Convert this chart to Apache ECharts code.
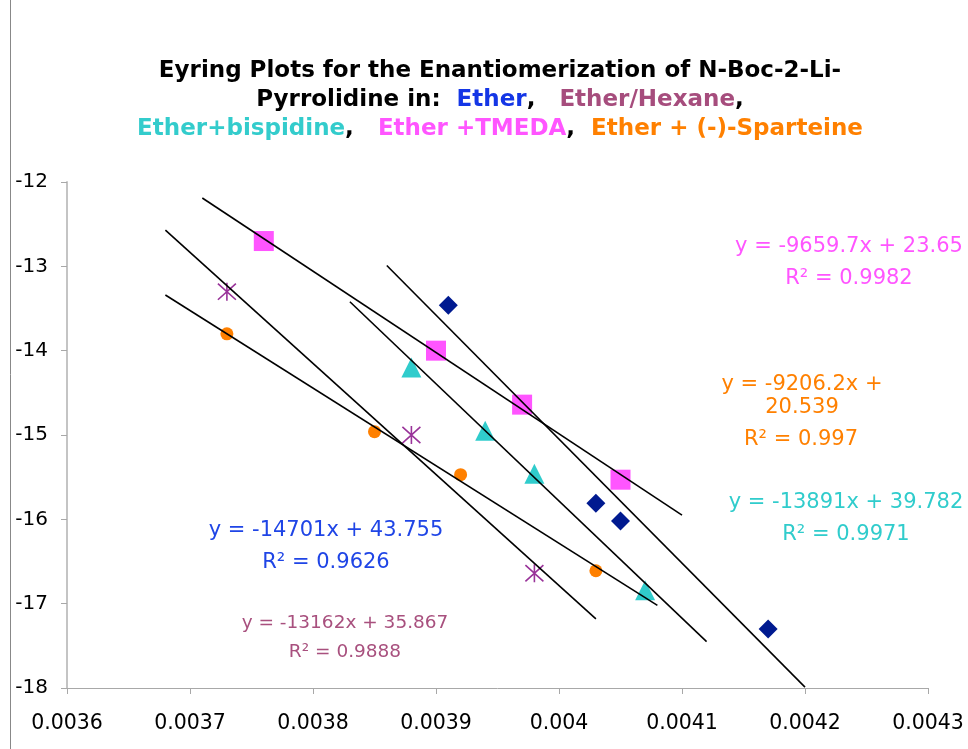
<!DOCTYPE html>
<html>
<head>
<meta charset="utf-8">
<script src="https://cdn.jsdelivr.net/npm/echarts@6/dist/echarts.min.js"></script>
<style>html,body{margin:0;padding:0;background:#fff}#c{width:968px;height:749px}</style>
</head>
<body>
<div id="c"></div>
<script>
// Axis ticks
const xTicks = [0.0036, 0.0037, 0.0038, 0.0039, 0.004, 0.0041, 0.0042, 0.0043];
const yTicks = [-18, -17, -16, -15, -14, -13, -12];

// Data points (1/T, ln(k/T))
const etherX = [0.00391, 0.00403, 0.00405, 0.00417];
const etherY = [-13.46, -15.81, -16.02, -17.30];
const hexaneX = [0.00373, 0.00388, 0.00398];
const hexaneY = [-13.30, -15.00, -16.64];
const bispX = [0.00388, 0.00394, 0.00398, 0.00407];
const bispY = [-14.20, -14.95, -15.46, -16.84];
const tmedaX = [0.00376, 0.00390, 0.00397, 0.00405];
const tmedaY = [-12.70, -14.00, -14.64, -15.53];
const sparX = [0.00373, 0.00385, 0.00392, 0.00403];
const sparY = [-13.80, -14.96, -15.47, -16.61];

// Trendline end points
const etherFitX = [0.00386, 0.0042];
const etherFitY = [-12.99, -17.99];
const hexaneFitX = [0.00368, 0.00403];
const hexaneFitY = [-12.57, -17.18];
const bispFitX = [0.00383, 0.00412];
const bispFitY = [-13.42, -17.45];
const tmedaFitX = [0.00371, 0.0041];
const tmedaFitY = [-12.19, -15.95];
const sparFitX = [0.00368, 0.00408];
const sparFitY = [-13.34, -17.02];

// Equation labels
const eqEther = ['y = -14701x + 43.755', 'R² = 0.9626'];
const eqHexane = ['y = -13162x + 35.867', 'R² = 0.9888'];
const eqBisp = ['y = -13891x + 39.782', 'R² = 0.9971'];
const eqTmeda = ['y = -9659.7x + 23.65', 'R² = 0.9982'];
const eqSpar = ['y = -9206.2x +', '20.539', 'R² = 0.997'];

const C = {
  ether: '#001A90', etherTxt: '#1F45E6',
  hexane: '#993399', hexaneTxt: '#A8507E',
  bisp: '#30CCCC', tmeda: '#FF55FF', spar: '#FF8000'
};

const zip = (a, b) => a.map((v, i) => [v, b[i]]);

const chart = echarts.init(document.getElementById('c'));

const FONT = 'DejaVu Sans';
function eqText(lines, color, x, y, size, lh) {
  return {
    type: 'text', x: x, y: y, z: 100,
    style: {
      text: lines.join('\n'), fill: color, font: (size || 21) + 'px "' + FONT + '"',
      align: 'center', verticalAlign: 'top', lineHeight: lh || 32
    }
  };
}

function scatter(name, x, y, symbol, size, style) {
  style.opacity = 1;
  return {
    name: name, type: 'scatter', data: zip(x, y), symbol: symbol, symbolSize: size,
    itemStyle: style, z: 2, silent: true
  };
}
function fit(x, y) {
  return {
    type: 'line', data: zip(x, y), showSymbol: false, symbol: 'none',
    lineStyle: { color: '#000', width: 1.6 }, z: 5, silent: true, animation: false
  };
}

const T = (fill) => ({ fill: fill, fontFamily: FONT, fontWeight: 'bold', fontSize: 23, lineHeight: 29 });

chart.setOption({
  animation: false,
  backgroundColor: '#fff',
  grid: { left: 67, right: 40, top: 182, bottom: 61 },
  xAxis: {
    type: 'value', min: xTicks[0], max: xTicks[xTicks.length - 1], interval: 0.0001,
    axisLine: { show: true, lineStyle: { color: '#A8A8A8', width: 1 } },
    axisTick: { show: true, length: 6, lineStyle: { color: '#A8A8A8' } },
    splitLine: { show: false },
    axisLabel: {
      color: '#000', fontFamily: FONT, fontSize: 20.5, margin: 25,
      formatter: v => String(parseFloat(v.toFixed(4)))
    }
  },
  yAxis: {
    type: 'value', min: yTicks[0], max: yTicks[yTicks.length - 1], interval: 1,
    axisLine: { show: true, lineStyle: { color: '#C4C4C4', width: 2 } },
    axisTick: { show: true, length: 6, lineStyle: { color: '#A8A8A8' } },
    splitLine: { show: false },
    axisLabel: { color: '#000', fontFamily: FONT, fontSize: 20, margin: 19 }
  },
  series: [
    scatter('Ether', etherX, etherY, 'diamond', 19, { color: C.ether }),
    scatter('Ether/Hexane', hexaneX, hexaneY,
      'path://M0,-10L0,10M-10,-9L10,9M-10,9L10,-9', 18,
      { color: 'rgba(0,0,0,0)', borderColor: C.hexane, borderWidth: 1.6 }),
    scatter('Ether+bispidine', bispX, bispY, 'triangle', 20, { color: C.bisp }),
    scatter('Ether +TMEDA', tmedaX, tmedaY, 'rect', 20, { color: C.tmeda }),
    scatter('Ether + (-)-Sparteine', sparX, sparY, 'circle', 13, { color: C.spar }),
    fit(etherFitX, etherFitY),
    fit(hexaneFitX, hexaneFitY),
    fit(bispFitX, bispFitY),
    fit(tmedaFitX, tmedaFitY),
    fit(sparFitX, sparFitY)
  ],
  graphic: [
    { type: 'line', shape: { x1: 10.5, y1: 0, x2: 10.5, y2: 749 }, style: { stroke: '#888', lineWidth: 1 } },
    {
      type: 'text', x: 500, y: 57, z: 100,
      style: {
        text: '{b|Eyring Plots for the Enantiomerization of N-Boc-2-Li-}\n' +
              '{b|Pyrrolidine in:  }{e|Ether}{b|,   }{h|Ether/Hexane}{b|,}\n' +
              '{c|Ether+bispidine}{b|,   }{m|Ether +TMEDA}{b|,  }{o|Ether + (-)-Sparteine}',
        align: 'center', verticalAlign: 'top',
        rich: {
          b: T('#000'), e: T('#1436E6'), h: T('#A64D7D'),
          c: T('#33CCCC'), m: T('#FF55FF'), o: T('#FF8000')
        }
      }
    },
    eqText(eqTmeda, C.tmeda, 849, 231),
    eqText(eqSpar.slice(0, 2), C.spar, 802, 373.5, 21, 23),
    eqText([eqSpar[2]], C.spar, 801, 428, 21, 24),
    eqText(eqBisp, C.bisp, 846, 487),
    eqText(eqEther, C.etherTxt, 326, 515),
    eqText(eqHexane, C.hexaneTxt, 345, 608.5, 18.5, 29)
  ]
});
</script>
</body>
</html>
